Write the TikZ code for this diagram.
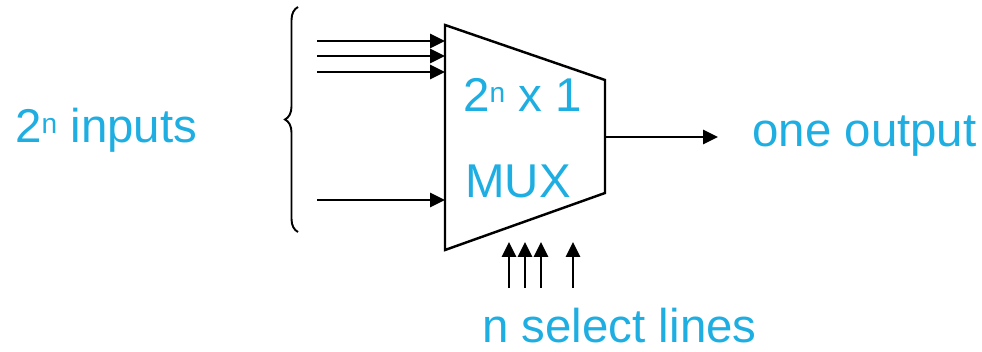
\documentclass[tikz,border=0pt]{standalone}
\usepackage{fontspec}
\setmainfont{Liberation Sans}
\usepackage{tikz}
\usetikzlibrary{arrows.meta, decorations.pathreplacing, positioning}
\definecolor{muxblue}{RGB}{30,174,226}
\tikzstyle{arrow}    = [line width=1.4pt, -{Triangle[length=8.5pt,width=8pt]}]
\tikzstyle{bluetext} = [text=muxblue, font=\fontsize{27}{32}\selectfont, inner sep=0pt]
\newcommand{\supn}{\raisebox{5.5pt}{\fontsize{16}{16}\selectfont n}}

\begin{document}
\begin{tikzpicture}[x=0.02cm, y=-0.02cm]
    \useasboundingbox (0,0) rectangle (982,351);

    % mux body
    \coordinate (tl) at (445,25);
    \coordinate (tr) at (605,80);
    \coordinate (br) at (605,193);
    \coordinate (bl) at (445,250);
    \draw [line width=1.4pt] (tl) -- (tr) -- (br) -- (bl) -- cycle;

    \node (size) at (463,112) [bluetext, anchor=base west] {2\supn\ x 1};
    \node (mux)  at (465,197) [bluetext, anchor=base west] {MUX};

    % inputs
    \foreach \y [count=\i] in {41,56,72,200} {
        \coordinate (in\i)  at (317,\y);
        \coordinate (pin\i) at (445,\y);
        \draw [arrow] (in\i) -- (pin\i);
    }
    \draw [line width=1.1pt, decorate, decoration={brace, amplitude=0.26cm}]
          (298,232) -- (298,7);
    \node (ins) at (15,143) [bluetext, anchor=base west] {2\supn\ inputs};

    % output
    \coordinate (muxout) at (605,137);
    \coordinate (outend) at (718,137);
    \draw [arrow] (muxout) -- (outend);
    \node (outs) at (752,147) [bluetext, anchor=base west] {one output};

    % select lines
    \foreach \x [count=\i] in {509,525,541,573} {
        \coordinate (s\i)  at (\x,288);
        \coordinate (ps\i) at (\x,242);
        \draw [arrow] (s\i) -- (ps\i);
    }
    \node (sel) at (482,342) [bluetext, anchor=base west] {n select lines};
\end{tikzpicture}
\end{document}
